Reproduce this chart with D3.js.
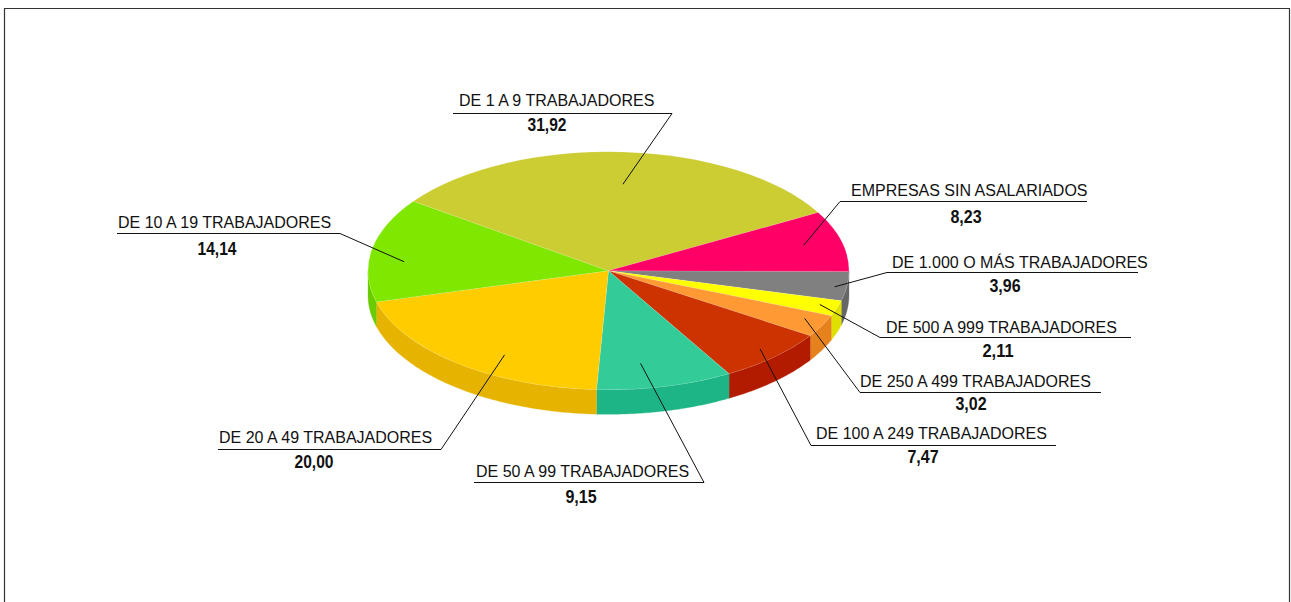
<!DOCTYPE html>
<html><head><meta charset="utf-8">
<script src="https://cdn.jsdelivr.net/npm/d3@7"></script>
<style>html,body{margin:0;padding:0;background:#fff;overflow:hidden}svg{display:block}</style>
</head><body><svg id="c" width="1291" height="602"></svg>
<script>
const categories = ["DE 1.000 O MÁS TRABAJADORES","DE 500 A 999 TRABAJADORES","DE 250 A 499 TRABAJADORES","DE 100 A 249 TRABAJADORES","DE 50 A 99 TRABAJADORES","DE 20 A 49 TRABAJADORES","DE 10 A 19 TRABAJADORES","DE 1 A 9 TRABAJADORES","EMPRESAS SIN ASALARIADOS"];
const values = [3.96,2.11,3.02,7.47,9.15,20.00,14.14,31.92,8.23];
const topColors = ["#808080","#FFFF00","#FF9933","#CC3300","#33CC99","#FFCC00","#80E800","#CCCC33","#FF0066"];
const sideColors = ["#666666","#E0E000","#E6821E","#B31B00","#1DB586","#E6B400","#6ACC00","#A8A82A","#CC0052"];
// label placement: [anchor radius fraction, anchor angle tweak (deg), underline x0, x1, y, elbow side, text x, text baseline, value centre x, value baseline]
const labelLayout = [
 [0.95, 1.0, 887,1138,272,"l",892,268,1005,292],
 [0.923, -0.2, 880,1131,337,"l",886,333,998,357],
 [0.908, -1.2, 860,1101,392,"l",860,387,971,410],
 [0.91, 0, 811,1056,445,"l",816,439,923,463],
 [0.79, 4.2, 474,704,482,"r",476,477,581,503],
 [0.828, -7.1, 218,441,449,"r",219,443,314,468],
 [0.853, -4.9, 117,340,233,"r",118,228,217,255],
 [0.73, 1.8, 453,672,113,"r",459,106,547,131],
 [0.84, 0, 840,1087,201,"l",851,196,966,223]
];
const cx=608.5, cy=270.8, rx=240.5, ry=119, depth=24.5;
const svg=d3.select("#c");
const fmt=d3.formatLocale({decimal:",",thousands:".",grouping:[3],currency:["","€"]}).format(".2f");
svg.append("path").attr("d","M4.5,602V8.5H1289.5V602").attr("fill","none").attr("stroke","#333").attr("stroke-width",1.2);

const offset=0.3*Math.PI/180;
const pie=d3.pie().sort(null).startAngle(Math.PI/2+offset).endAngle(Math.PI/2+offset+2*Math.PI);
const arcs=pie(values);
const px=d3.scaleLinear().domain([-1,1]).range([cx-rx,cx+rx]);
const py=d3.scaleLinear().domain([-1,1]).range([cy-ry,cy+ry]);
const ux=a=>Math.sin(a), uy=a=>-Math.cos(a);
const line=d3.line();
const walls=svg.append("g");
arcs.forEach((d,i)=>{
  const s=i===0?Math.PI/2:d.startAngle;
  const lo=Math.max(s,Math.PI/2), hi=Math.min(d.endAngle,1.5*Math.PI);
  if(hi<=lo) return;
  const steps=d3.range(lo,hi,0.01).concat([hi]);
  const top=steps.map(a=>[px(ux(a)),py(uy(a))]);
  const bot=steps.slice().reverse().map(a=>[px(ux(a)),py(uy(a))+depth]);
  walls.append("path").attr("d",line(top.concat(bot))+"Z").attr("fill",sideColors[i]).attr("stroke",sideColors[i]).attr("stroke-width",0.3);
});
const arc=d3.arc().innerRadius(0).outerRadius(rx);
const tops=svg.append("g").attr("transform",`translate(${cx},${cy}) scale(1,${ry/rx})`);
tops.selectAll("path").data(arcs).join("path").attr("d",arc)
  .attr("fill",(d,i)=>topColors[i]).attr("stroke","rgba(255,255,255,0.3)").attr("stroke-width",0.5);

const g=svg.append("g").style("font-family","'Liberation Sans',Arial,sans-serif");
arcs.forEach((d,i)=>{
  const [r,tw,x0,x1,y,side,tx,ty,vx,vy]=labelLayout[i];
  const m=(d.startAngle+d.endAngle)/2-offset+tw*Math.PI/180;
  const ax=px(r*ux(m)), ay=py(r*uy(m));
  const ex=side==="l"?x0:x1;
  g.append("path").attr("d",line([[ax,ay],[ex,y+0.5]])+`M${x0},${y+0.5}H${x1}`).attr("fill","none").attr("stroke","#111").attr("stroke-width",1);
  g.append("text").attr("x",tx).attr("y",ty).attr("font-size",16).attr("fill","#111").text(categories[i]);
  g.append("text").attr("x",vx).attr("y",vy).attr("text-anchor","middle").attr("font-size",18).attr("font-weight","bold").attr("fill","#111")
   .attr("textLength",fmt(values[i]).length*7.8).attr("lengthAdjust","spacingAndGlyphs").text(fmt(values[i]));
});
</script></body></html>
